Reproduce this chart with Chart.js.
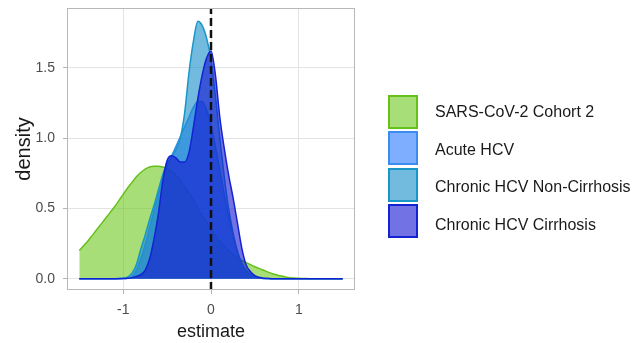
<!DOCTYPE html>
<html><head><meta charset="utf-8">
<script src="https://cdn.jsdelivr.net/npm/chart.js@4.4.1/dist/chart.umd.min.js"></script>
<style>
html,body{margin:0;padding:0;background:#fff;}
#wrap{position:relative;width:634px;height:343px;overflow:hidden;background:#fff;}
#c{position:absolute;left:0;top:0;}
.key{position:absolute;left:388px;width:26px;height:30px;border:2px solid;box-sizing:content-box;}
.lab{position:absolute;left:435px;font-size:16px;font-family:"Liberation Sans",Arial,sans-serif;color:#1a1a1a;white-space:nowrap;line-height:20px;}
</style></head><body>
<div id="wrap"><canvas id="c" width="634" height="343"></canvas><div id="legend"></div></div>
<script>
// grid of estimate values (x)
const xGrid = [-1.5,-1.45,-1.4,-1.35,-1.3,-1.25,-1.2,-1.15,-1.1,-1.05,
  -1.0,-0.95,-0.9,-0.85,-0.8,-0.75,-0.7,-0.65,-0.6,-0.55,
  -0.5,-0.45,-0.4,-0.35,-0.3,-0.25,-0.2,-0.15,-0.1,-0.05,
  0,0.05,0.1,0.15,0.2,0.25,0.3,0.35,0.4,0.45,
  0.5,0.55,0.6,0.65,0.7,0.75,0.8,0.85,0.9,0.95,
  1.0,1.05,1.1,1.15,1.2,1.25,1.3,1.35,1.4,1.45,1.5];

const seriesNames = ["SARS-CoV-2 Cohort 2","Acute HCV","Chronic HCV Non-Cirrhosis","Chronic HCV Cirrhosis"];

const sarsCohort2 = [0.20,0.235,0.27,0.31,0.35,0.39,0.43,0.47,0.51,0.555,
  0.60,0.645,0.685,0.725,0.755,0.78,0.795,0.80,0.80,0.795,
  0.785,0.765,0.735,0.70,0.655,0.61,0.56,0.505,0.45,0.40,
  0.35,0.305,0.265,0.23,0.20,0.175,0.15,0.13,0.115,0.10,
  0.085,0.072,0.06,0.047,0.036,0.027,0.019,0.013,0.008,0.005,
  0.003,0.002,0.001,0,0,0,0,0,0,0,0];

const acuteHCV = [0,0,0,0,0,0,0,0,0,0.001,
  0.002,0.004,0.015,0.06,0.14,0.24,0.36,0.48,0.60,0.71,
  0.80,0.87,0.94,1.01,1.08,1.15,1.22,1.26,1.26,1.20,
  1.09,0.94,0.77,0.60,0.44,0.30,0.19,0.11,0.06,0.03,
  0.014,0.006,0.002,0.001,0,0,0,0,0,0,
  0,0,0,0,0,0,0,0,0,0,0];

const chronicNonCirrhosis = [0,0,0,0,0,0,0,0,0,0.001,
  0.003,0.012,0.04,0.10,0.21,0.31,0.42,0.52,0.63,0.74,
  0.82,0.87,0.92,1.00,1.18,1.47,1.69,1.83,1.80,1.71,
  1.56,1.30,1.00,0.73,0.50,0.33,0.20,0.11,0.06,0.03,
  0.013,0.005,0.002,0.001,0,0,0,0,0,0,
  0,0,0,0,0,0,0,0,0,0,0];

const chronicCirrhosis = [0,0,0,0,0,0,0,0,0,0,
  0.001,0.003,0.008,0.016,0.03,0.06,0.14,0.28,0.46,0.69,
  0.84,0.875,0.86,0.83,0.83,0.90,1.08,1.28,1.45,1.57,
  1.62,1.45,1.15,0.93,0.74,0.58,0.40,0.22,0.10,0.05,
  0.022,0.01,0.004,0.002,0,0,0,0,0,0,
  0,0,0,0,0,0,0,0,0,0,0];

const xTicks = [-1, 0, 1];
const yTicks = [0, 0.5, 1.0, 1.5];
const refLine = [0];

const seriesValues = [sarsCohort2, acuteHCV, chronicNonCirrhosis, chronicCirrhosis];
const borderColors = ['rgb(102,192,28)','rgb(60,140,240)','rgb(25,150,200)','rgb(20,35,210)'];
const fillColors = ['rgba(110,200,30,0.6)','rgba(40,120,255,0.6)','rgba(20,140,200,0.6)','rgba(20,20,210,0.6)'];

const FAM = '"Liberation Sans", Arial, Helvetica, sans-serif';
const yMin = -0.08, yMax = 1.925;

const datasets = seriesValues.map((vals, k) => ({
  label: seriesNames[k],
  data: xGrid.map((x, i) => ({x: x, y: vals[i]})),
  borderColor: borderColors[k],
  backgroundColor: fillColors[k],
  borderWidth: 1.5,
  fill: 'origin',
  pointRadius: 0,
  cubicInterpolationMode: 'monotone',
  order: 4 - k
}));
datasets.push({
  label: 'ref',
  data: [{x: refLine[0], y: yMin}, {x: refLine[0], y: yMax}],
  borderColor: '#111',
  borderWidth: 2.5,
  borderDash: [8, 4],
  fill: false,
  pointRadius: 0,
  order: 0
});

const panelBorder = {
  id: 'panelBorder',
  afterDatasetsDraw(chart) {
    const {ctx, chartArea: a} = chart;
    ctx.save();
    ctx.strokeStyle = '#b8b8b8';
    ctx.lineWidth = 1;
    ctx.strokeRect(Math.round(a.left) + 0.5, Math.round(a.top) + 0.5,
      Math.round(a.right - a.left) - 1, Math.round(a.bottom - a.top) - 1);
    ctx.restore();
  }
};

new Chart(document.getElementById('c'), {
  type: 'line',
  data: {datasets},
  plugins: [panelBorder],
  options: {
    responsive: false,
    animation: false,
    devicePixelRatio: 1,
    layout: {padding: {top: 8, right: 279, left: 0, bottom: 0}},
    plugins: {legend: {display: false}, tooltip: {enabled: false}},
    scales: {
      x: {
        type: 'linear', min: -1.64, max: 1.64,
        afterBuildTicks: s => { s.ticks = xTicks.map(v => ({value: v})); },
        afterFit: s => { s.height = 53; s.paddingLeft = 0; s.paddingRight = 0; },
        grid: {color: '#e3e3e3', lineWidth: 1, tickLength: 4, tickColor: '#b3b3b3'},
        border: {display: false},
        ticks: {color: '#4d4d4d', font: {family: FAM, size: 14}, padding: 8, maxRotation: 0,
          callback: v => String(v)},
        title: {display: true, text: 'estimate', color: '#1a1a1a',
          font: {family: FAM, size: 18, lineHeight: 1.2}, padding: {top: 0, bottom: 0}}
      },
      y: {
        type: 'linear', min: yMin, max: yMax,
        afterBuildTicks: s => { s.ticks = yTicks.map(v => ({value: v})); },
        afterFit: s => { s.width = 67; s.paddingTop = 0; s.paddingBottom = 0; },
        grid: {color: '#e3e3e3', lineWidth: 1, tickLength: 4, tickColor: '#b3b3b3'},
        border: {display: false},
        ticks: {color: '#4d4d4d', font: {family: FAM, size: 14}, padding: 8,
          callback: v => Number(v).toFixed(1)},
        title: {display: true, text: 'density', color: '#1a1a1a',
          font: {family: FAM, size: 20, lineHeight: 1.2}, padding: {top: 12, bottom: 0}}
      }
    }
  }
});

// legend
const leg = document.getElementById('legend');
seriesNames.forEach((name, k) => {
  const key = document.createElement('div');
  key.className = 'key';
  key.style.top = (95 + 36.4 * k) + 'px';
  key.style.background = fillColors[k];
  key.style.borderColor = borderColors[k];
  leg.appendChild(key);
  const lab = document.createElement('div');
  lab.className = 'lab';
  lab.style.top = (112.2 + 37.6 * k - 10) + 'px';
  lab.textContent = name;
  leg.appendChild(lab);
});
</script>
</body></html>
